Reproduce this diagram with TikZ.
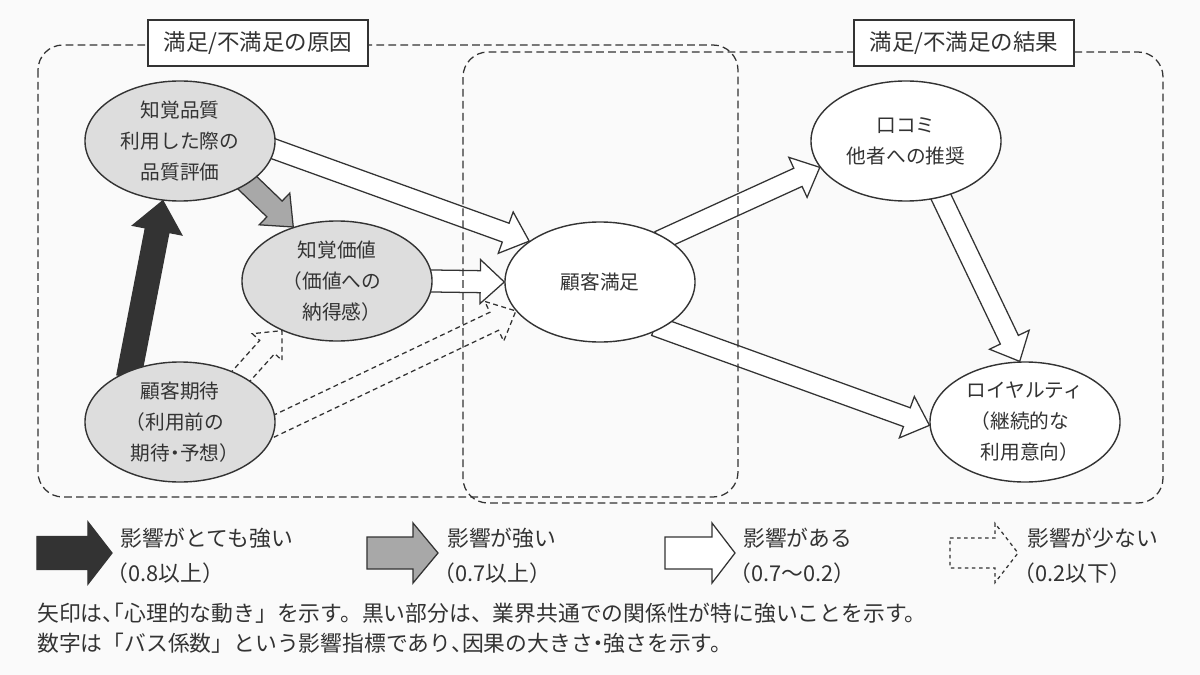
\documentclass[tikz,border=0pt]{standalone}
\usepackage{fontspec}
\setmainfont{Noto Sans CJK JP}
\newfontfamily\halffont{Noto Sans CJK JP}[RawFeature=+halt]
\newcommand\hw[1]{{\halffont #1}}
\usetikzlibrary{calc,shapes.geometric}
\definecolor{ink}{HTML}{333333}
\definecolor{paper}{HTML}{FAFAFA}
\definecolor{bubblegray}{HTML}{DDDDDD}
\definecolor{arrowgray}{HTML}{A8A8A8}
\pgfdeclarelayer{back}
\pgfdeclarelayer{arrows}
\pgfsetlayers{back,arrows,main}
\def\blockarrow[#1](#2)(#3)(#4:#5:#6){%
	\coordinate (ba-s) at ($(#2)!-5pt!(#3)$);
	\coordinate (ba-h) at ($(#3)!#6!(#2)$);
	\draw[#1] ($(ba-s)!#4!90:(#3)$) -- ($(ba-h)!#4!90:(#3)$) -- ($(ba-h)!#5!90:(#3)$) -- (#3) -- ($(ba-h)!#5!-90:(#3)$) -- ($(ba-h)!#4!-90:(#3)$) -- ($(ba-s)!#4!-90:(#3)$) -- cycle;}
\tikzset{
	bubble/.style={ellipse, draw=ink, line width=1pt, minimum width=4.75cm, minimum height=3cm, inner sep=0pt, align=center, text=ink, font=\fontsize{14}{22}\selectfont},
	cause/.style={bubble, fill=bubblegray},
	effect/.style={bubble, fill=white},
	strongest/.style={draw=ink, line width=0.9pt, fill=ink},
	strongflow/.style={draw=ink, line width=0.9pt, fill=arrowgray},
	someflow/.style={draw=ink, line width=0.9pt, fill=white},
	weakflow/.style={draw=ink, line width=0.9pt, dash pattern=on 3.5pt off 2.5pt},
	zone/.style={draw=ink, line width=0.9pt, dash pattern=on 5.5pt off 3pt, rounded corners=0.625cm},
	heading/.style={draw=ink, line width=1pt, fill=white, minimum width=5.5cm, minimum height=1.15cm, inner sep=0pt, text=ink, font=\fontsize{16}{19}\selectfont},
	legendtext/.style={anchor=west, inner sep=0pt, text=ink, font=\fontsize{15.5}{19}\selectfont}
}
\begin{document}
\begin{tikzpicture}[x=0.025cm, y=-0.025cm]
				\begin{pgfonlayer}{back}
					\fill[paper] (0,0) rectangle (1200,675);
				\end{pgfonlayer}
				\useasboundingbox (0,0) rectangle (1200,675);
				
				\node[cause] (qual) at (180,141) {知覚品質\\利用した際の\\品質評価};
				\node[cause] (value) at (337,281) {知覚価値\\\hw{（}価値への\\納得感\hw{）}};
				\node[cause] (expect) at (180,422) {顧客期待\\\hw{（}利用前の\\期待\hw{・}予想\hw{）}};
				\node[effect] (sat) at (600,282) {顧客満足};
				\node[effect] (wom) at (906,141) {口コミ\\他者への推奨};
				\node[effect] (loyal) at (1025,422) {ロイヤルティ\\\hw{（}継続的な\\利用意向\hw{）}};
				
				\begin{pgfonlayer}{arrows}
					\blockarrow[strongest](expect.134)(qual.-106)(0.3cm:0.625cm:0.75cm);
					\blockarrow[strongflow](qual.-32)(value.129)(0.275cm:0.55cm:0.65cm);
					\blockarrow[someflow](qual.-5)(sat.150)(0.25cm:0.55cm:0.625cm);
					\blockarrow[someflow](value.0)(sat.180)(0.275cm:0.55cm:0.6cm);
					\blockarrow[weakflow](expect.37)(value.-138)(0.25cm:0.5cm:0.55cm);
					\blockarrow[weakflow](expect.-2)(sat.-161)(0.25cm:0.55cm:0.6cm);
					\blockarrow[someflow](sat.34)(wom.-163)(0.25cm:0.55cm:0.6cm);
					\blockarrow[someflow](wom.-58)(loyal.95)(0.25cm:0.55cm:0.6cm);
					\blockarrow[someflow](sat.-37)(loyal.182)(0.25cm:0.55cm:0.6cm);
				\end{pgfonlayer}
				
				\draw[zone] (38,45) rectangle (738,497);
				\draw[zone] (463,52) rectangle (1163,503);
				\node[heading] (causes) at (258,43) {満足/不満足の原因};
				\node[heading] (results) at (964,43) {満足/不満足の結果};
				
				\blockarrow[strongest](44,553)(112,553)(0.41cm:0.775cm:0.6cm);
				\node[legendtext] (key1) at (120,538) {影響がとても強い};
				\node[legendtext] (key1v) at (117,573) {\hw{（}0.8以上\hw{）}};
				\blockarrow[strongflow](374,553)(438,553)(0.4cm:0.75cm:0.625cm);
				\node[legendtext] (key2) at (447,538) {影響が強い};
				\node[legendtext] (key2v) at (444,573) {\hw{（}0.7以上\hw{）}};
				\blockarrow[someflow](672,553)(735,553)(0.4cm:0.75cm:0.575cm);
				\node[legendtext] (key3) at (743,538) {影響がある};
				\node[legendtext] (key3v) at (740,573) {\hw{（}0.7〜0.2\hw{）}};
				\blockarrow[weakflow, dash pattern=on 2.5pt off 2.5pt](957,553)(1018,553)(0.375cm:0.74cm:0.575cm);
				\node[legendtext] (key4) at (1027,538) {影響が少ない};
				\node[legendtext] (key4v) at (1024,573) {\hw{（}0.2以下\hw{）}};
				
				\node[legendtext] (note1) at (37,613) {矢印は\hw{、「}心理的な動き」を示す。黒い部分は、業界共通での関係性が特に強いことを示す。};
				\node[legendtext] (note2) at (37,643) {数字は「バス係数」という影響指標であり\hw{、}因果の大きさ\hw{・}強さを示す。};
			\end{tikzpicture}
\end{document}
